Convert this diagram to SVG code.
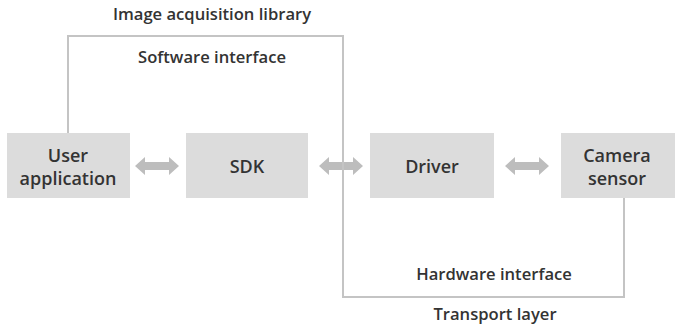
<svg xmlns="http://www.w3.org/2000/svg" width="676" height="331" viewBox="0 0 676 331">
  <style>
    .box { fill: #dcdcdc; }
    .lbl { font-family: "Open Sans", "Noto Sans", sans-serif; font-weight: 600; fill: #333; text-anchor: middle; }
    .node { font-size: 18px; }
    .cap { font-size: 16.6px; }
    .wire { fill: none; stroke: #c4c4c4; stroke-width: 2; }
    .dbl { fill: #bdbdbd; }
  </style>
  <defs>
    <!-- double-headed block arrow, 44 wide, centred on origin -->
    <path id="dbl" d="M-22 0 L-12 -9 L-12 -4 L12 -4 L12 -9 L22 0 L12 9 L12 4 L-12 4 L-12 9 Z"/>
  </defs>

  <!-- captions -->
  <text class="lbl cap" x="212" y="20">Image acquisition library</text>
  <text class="lbl cap" x="212" y="63">Software interface</text>
  <text class="lbl cap" x="494" y="280">Hardware interface</text>
  <text class="lbl cap" x="495" y="320">Transport layer</text>

  <g id="user-application">
    <rect class="box" x="7" y="133" width="123" height="65"/>
    <text class="lbl node" x="68" y="162">User</text>
    <text class="lbl node" x="68" y="185">application</text>
  </g>
  <g id="sdk">
    <rect class="box" x="186" y="133" width="122" height="65"/>
    <text class="lbl node" x="247" y="173">SDK</text>
  </g>
  <g id="driver">
    <rect class="box" x="370" y="133" width="124" height="65"/>
    <text class="lbl node" x="432" y="173">Driver</text>
  </g>
  <g id="camera-sensor">
    <rect class="box" x="561" y="133" width="114" height="65"/>
    <text class="lbl node" x="617" y="162">Camera</text>
    <text class="lbl node" x="617" y="185">sensor</text>
  </g>

  <g id="connectors">
    <use href="#dbl" class="dbl" x="157" y="166"/>
    <use href="#dbl" class="dbl" x="341" y="166"/>
    <use href="#dbl" class="dbl" x="527" y="166"/>
    <polyline class="wire" points="68,133 68,36 343,36 343,297 624,297 624,198"/>
  </g>
</svg>
